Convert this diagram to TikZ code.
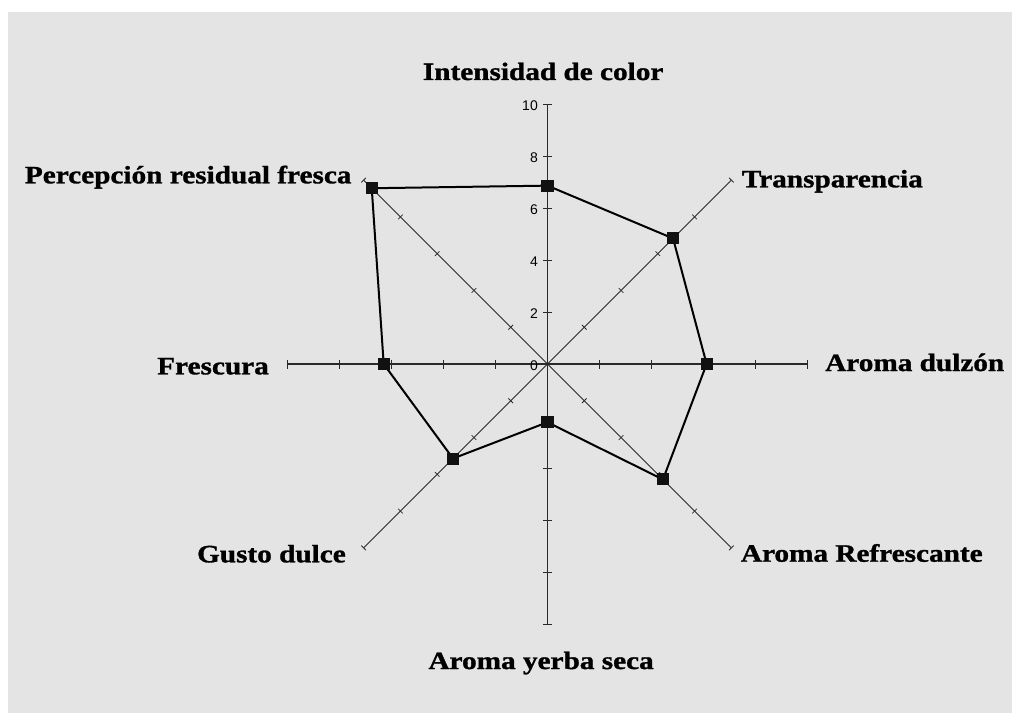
\documentclass[tikz,border=0pt]{standalone}
\usepackage{fontspec}
\newfontfamily\labfont[FakeStretch=1.17,BoldFeatures={FakeBold=1.2}]{Liberation Serif}
\newfontfamily\numfont{Liberation Sans}
\definecolor{bgc}{HTML}{E4E4E4}
\definecolor{axc}{HTML}{2A2A2A}
\definecolor{ptc}{HTML}{111111}
\begin{document}
\begin{tikzpicture}[x=1pt,y=1pt,
  axis/.style={draw=axc,line width=1.1pt},
  diag/.style={draw=axc,line width=0.8pt},
  tk/.style={draw=axc,line width=1pt},
  poly/.style={draw=black,line width=2pt,line join=round},
  sq/.style={rectangle,fill=ptc,draw=none,minimum size=12pt,inner sep=0pt},
  cat/.style={inner sep=0pt,font=\labfont\bfseries\fontsize{25}{30}\selectfont,text=black},
  num/.style={inner sep=0pt,anchor=east,font=\numfont\fontsize{14}{16}\selectfont,text=black}]
\useasboundingbox (-547.5,-349) rectangle (464.5,364);
\fill[bgc] (-539.5,-349) rectangle (464.5,352);
% axes
\coordinate (O) at (0,0);
\foreach \a/\n in {90/ax1,45/ax2,0/ax3,-45/ax4,-90/ax5,-135/ax6,180/ax7,135/ax8}
  \coordinate (\n) at (\a:260);
\draw[axis] (O) -- (ax1);
\draw[axis] (O) -- (ax3);
\draw[axis] (O) -- (ax5);
\draw[axis] (O) -- (ax7);
\draw[diag] (O) -- (ax2);
\draw[diag] (O) -- (ax4);
\draw[diag] (O) -- (ax6);
\draw[diag] (O) -- (ax8);
% ticks
\foreach \a in {90,0,-90,180}
  \foreach \r in {2,4,6,8,10}
    \draw[tk,rotate=\a] ({\r*26},-4.5) -- ({\r*26},4.5);
\foreach \a in {45,-45,-135,135}
  \foreach \r in {2,4,6,8,10}
    \draw[tk,line width=0.8pt,rotate=\a] ({\r*26},-3.2) -- ({\r*26},3.2);
% scale numbers
\foreach \v in {0,2,4,6,8,10}
  \node[num] (n\v) at (-9.5,{\v*26-1.5}) {\v};
% data
\coordinate (d1) at (90:{6.86*26});
\coordinate (d2) at (45:{6.83*26});
\coordinate (d3) at (0:{6.12*26});
\coordinate (d4) at (-45:{6.28*26});
\coordinate (d5) at (-90:{2.24*26});
\coordinate (d6) at (-135:{5.14*26});
\coordinate (d7) at (180:{6.3*26});
\coordinate (d8) at (135:{9.56*26});
\draw[poly] (d1) -- (d2) -- (d3) -- (d4) -- (d5) -- (d6) -- (d7) -- (d8) -- cycle;
\foreach \i in {1,...,8}
  \node[sq] (p\i) at (d\i) {};
% category labels
\node[cat,anchor=base west] (l1) at (-124.8,284) {Intensidad de color};
\node[cat,anchor=base west] (l2) at (194.2,176.7) {Transparencia};
\node[cat,anchor=base west] (l3) at (277.5,-7) {Aroma dulzón};
\node[cat,anchor=base west] (l4) at (193.2,-197.7) {Aroma Refrescante};
\node[cat,anchor=base west] (l5) at (-119.2,-305) {Aroma yerba seca};
\node[cat,anchor=base east] (l6) at (-201.5,-198.3) {Gusto dulce};
\node[cat,anchor=base east] (l7) at (-278.5,-10.3) {Frescura};
\node[cat,anchor=base east] (l8) at (-195.8,180.7) {Percepción residual fresca};
\end{tikzpicture}
\end{document}
